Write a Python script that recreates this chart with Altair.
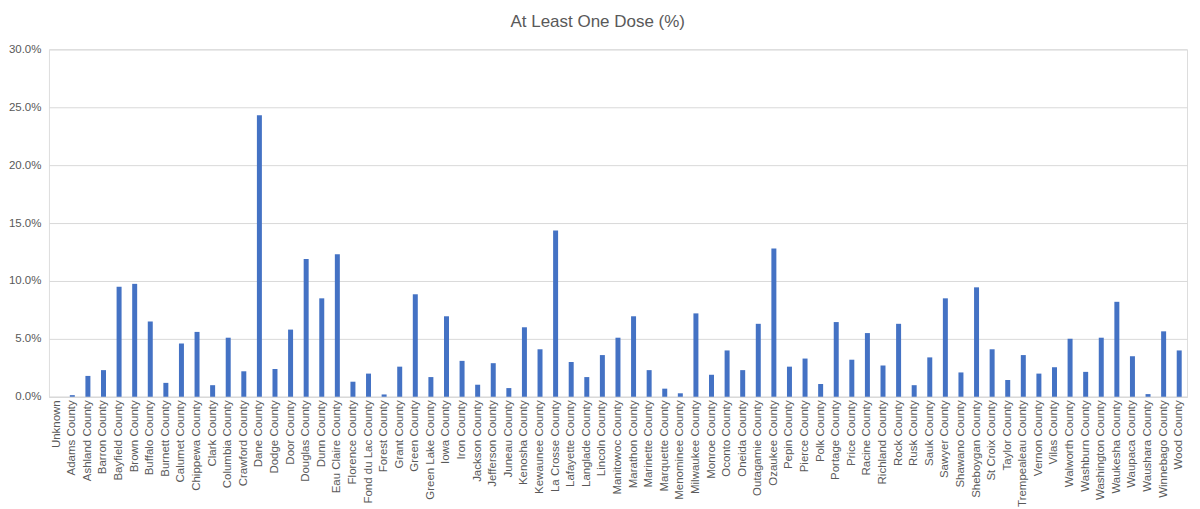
import altair as alt
import pandas as pd

counties = [
    "Unknown", "Adams County", "Ashland County", "Barron County", "Bayfield County",
    "Brown County", "Buffalo County", "Burnett County", "Calumet County", "Chippewa County",
    "Clark County", "Columbia County", "Crawford County", "Dane County", "Dodge County",
    "Door County", "Douglas County", "Dunn County", "Eau Claire County", "Florence County",
    "Fond du Lac County", "Forest County", "Grant County", "Green County", "Green Lake County",
    "Iowa County", "Iron County", "Jackson County", "Jefferson County", "Juneau County",
    "Kenosha County", "Kewaunee County", "La Crosse County", "Lafayette County", "Langlade County",
    "Lincoln County", "Manitowoc County", "Marathon County", "Marinette County", "Marquette County",
    "Menominee County", "Milwaukee County", "Monroe County", "Oconto County", "Oneida County",
    "Outagamie County", "Ozaukee County", "Pepin County", "Pierce County", "Polk County",
    "Portage County", "Price County", "Racine County", "Richland County", "Rock County",
    "Rusk County", "Sauk County", "Sawyer County", "Shawano County", "Sheboygan County",
    "St Croix County", "Taylor County", "Trempealeau County", "Vernon County", "Vilas County",
    "Walworth County", "Washburn County", "Washington County", "Waukesha County", "Waupaca County",
    "Waushara County", "Winnebago County", "Wood County",
]

pct_values = [
    0.0, 0.14, 1.8, 2.3, 9.5,
    9.75, 6.5, 1.2, 4.6, 5.6,
    1.0, 5.1, 2.2, 24.3, 2.4,
    5.8, 11.9, 8.5, 12.3, 1.3,
    2.0, 0.2, 2.6, 8.85, 1.7,
    6.95, 3.1, 1.04, 2.9, 0.75,
    6.0, 4.1, 14.35, 3.0, 1.7,
    3.6, 5.1, 6.95, 2.3, 0.7,
    0.3, 7.2, 1.9, 4.0, 2.3,
    6.3, 12.8, 2.6, 3.3, 1.1,
    6.45, 3.2, 5.5, 2.7, 6.3,
    1.0, 3.4, 8.5, 2.1, 9.45,
    4.1, 1.45, 3.6, 2.0, 2.55,
    5.0, 2.15, 5.1, 8.2, 3.5,
    0.23, 5.65, 4.0,
]

y_ticks = [0.0, 0.05, 0.10, 0.15, 0.20, 0.25, 0.30]
title_text = "At Least One Dose (%)"

df = pd.DataFrame({"county": counties, "value": [v / 100 for v in pct_values]})

FONT = "Liberation Sans"
GRID = "#D9D9D9"
TEXT = "#595959"

chart = (
    alt.Chart(df)
    .mark_bar(color="#4472C4")
    .encode(
        x=alt.X(
            "county:N",
            sort=counties,
            scale=alt.Scale(paddingInner=0.68, paddingOuter=0.34),
            axis=alt.Axis(
                title=None,
                labelAngle=-90,
                labelFont=FONT,
                labelFontSize=11.5,
                labelColor=TEXT,
                labelPadding=3,
                ticks=False,
                domainColor=GRID,
                grid=False,
                labelLimit=200,
            ),
        ),
        y=alt.Y(
            "value:Q",
            scale=alt.Scale(domain=[0, 0.30], nice=False),
            axis=alt.Axis(
                title=None,
                values=y_ticks,
                format=".1%",
                labelFont=FONT,
                labelFontSize=11.5,
                labelColor=TEXT,
                labelPadding=8,
                ticks=False,
                domain=False,
                gridColor=GRID,
                gridWidth=1,
            ),
        ),
        tooltip=["county", alt.Tooltip("value:Q", format=".1%")],
    )
    .properties(
        width=1140,
        height=348,
        padding={"left": 0, "top": 5, "right": 5, "bottom": 0},
        title=alt.TitleParams(
            text=title_text,
            font=FONT,
            fontSize=17,
            fontWeight="normal",
            color=TEXT,
            anchor="middle",
            frame="bounds",
            offset=12,
        ),
    )
    .configure_view(strokeWidth=0)
    .configure(background="white")
)

chart.save("out.html", embed_options={"renderer": "svg", "actions": False})
